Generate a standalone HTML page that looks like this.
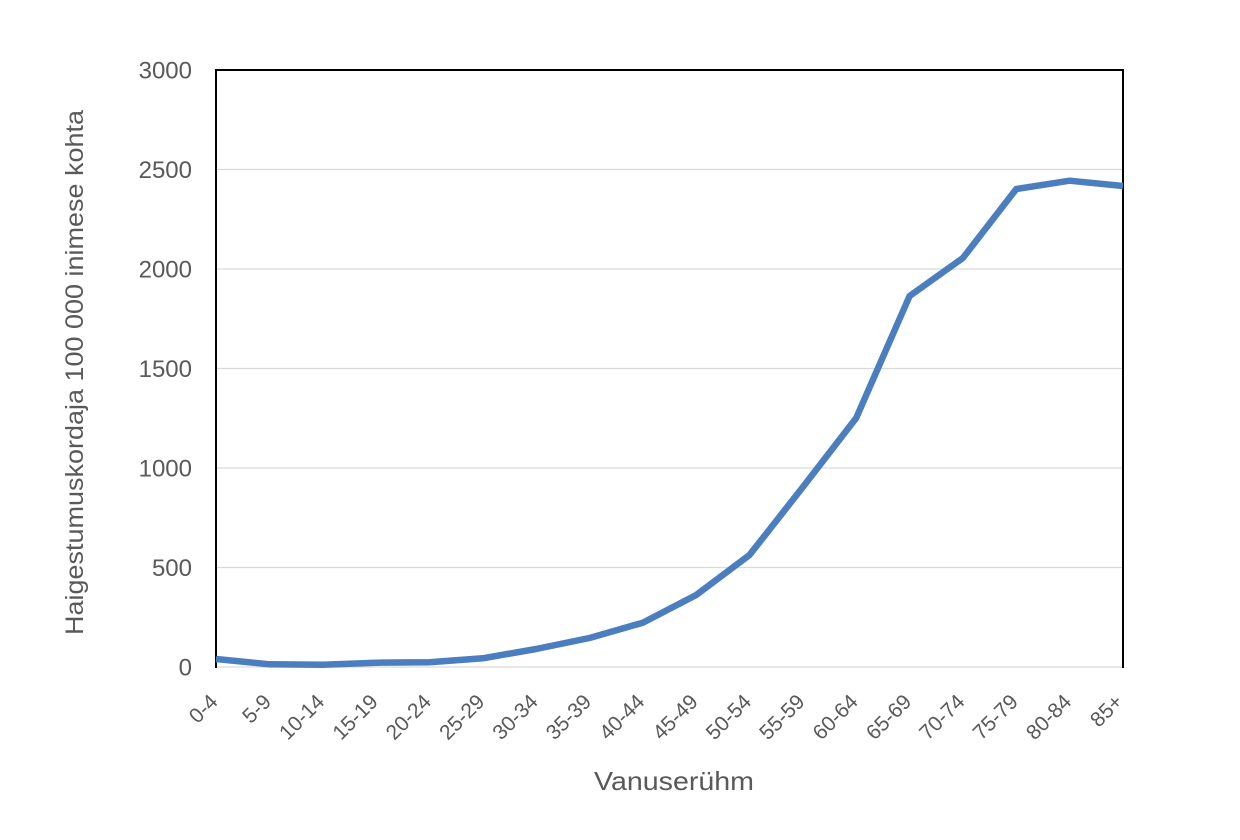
<!DOCTYPE html>
<html>
<head>
<meta charset="utf-8">
<style>
  html, body { margin: 0; padding: 0; background: #ffffff; }
  svg { display: block; }
  text { font-family: "Liberation Sans", "DejaVu Sans", sans-serif; fill: #595959; }
</style>
</head>
<body>
<svg width="1240" height="840" viewBox="0 0 1240 840" xmlns="http://www.w3.org/2000/svg">
  <rect x="0" y="0" width="1240" height="840" fill="#ffffff"/>

  <!-- gridlines -->
  <g stroke="#d9d9d9" stroke-width="1.3">
    <line x1="216" y1="169.5" x2="1123" y2="169.5"/>
    <line x1="216" y1="269" x2="1123" y2="269"/>
    <line x1="216" y1="368.5" x2="1123" y2="368.5"/>
    <line x1="216" y1="468" x2="1123" y2="468"/>
    <line x1="216" y1="567.5" x2="1123" y2="567.5"/>
    <line x1="216" y1="667" x2="1123" y2="667"/>
  </g>

  <!-- frame -->
  <g stroke="#000000" stroke-width="2" fill="none">
    <line x1="216" y1="70" x2="1123" y2="70"/>
    <line x1="216" y1="69" x2="216" y2="668"/>
    <line x1="1123" y1="69" x2="1123" y2="668"/>
  </g>

  <!-- data line -->
  <polyline fill="none" stroke="#4a7ebf" stroke-width="6.5" stroke-linejoin="round" stroke-linecap="butt"
    points="216,659 269.4,664.3 322.7,664.7 376.1,662.7 429.4,662.3 482.8,658.3 536.1,649 589.5,638 642.8,622.7 696.2,595 749.5,555 802.9,487 856.2,418 909.6,296 962.9,258 1016.3,189 1069.6,180.7 1123,186"/>

  <!-- y tick labels -->
  <g font-size="24" text-anchor="end">
    <text x="192" y="78.5">3000</text>
    <text x="192" y="178">2500</text>
    <text x="192" y="277.5">2000</text>
    <text x="192" y="377">1500</text>
    <text x="192" y="476.5">1000</text>
    <text x="192" y="576">500</text>
    <text x="192" y="675.5">0</text>
  </g>

  <!-- x tick labels -->
  <g font-size="21" text-anchor="end">
    <text transform="translate(219,703) rotate(-45)">0-4</text>
    <text transform="translate(272.4,703) rotate(-45)">5-9</text>
    <text transform="translate(325.7,703) rotate(-45)">10-14</text>
    <text transform="translate(379.1,703) rotate(-45)">15-19</text>
    <text transform="translate(432.4,703) rotate(-45)">20-24</text>
    <text transform="translate(485.8,703) rotate(-45)">25-29</text>
    <text transform="translate(539.1,703) rotate(-45)">30-34</text>
    <text transform="translate(592.5,703) rotate(-45)">35-39</text>
    <text transform="translate(645.8,703) rotate(-45)">40-44</text>
    <text transform="translate(699.2,703) rotate(-45)">45-49</text>
    <text transform="translate(752.5,703) rotate(-45)">50-54</text>
    <text transform="translate(805.9,703) rotate(-45)">55-59</text>
    <text transform="translate(859.2,703) rotate(-45)">60-64</text>
    <text transform="translate(912.6,703) rotate(-45)">65-69</text>
    <text transform="translate(965.9,703) rotate(-45)">70-74</text>
    <text transform="translate(1019.3,703) rotate(-45)">75-79</text>
    <text transform="translate(1072.6,703) rotate(-45)">80-84</text>
    <text transform="translate(1124,703) rotate(-45)">85+</text>
  </g>

  <!-- axis titles -->
  <text x="674" y="790" font-size="26" text-anchor="middle" textLength="160" lengthAdjust="spacingAndGlyphs">Vanuserühm</text>
  <text transform="translate(83,372.5) rotate(-90)" font-size="25" text-anchor="middle" textLength="525" lengthAdjust="spacingAndGlyphs">Haigestumuskordaja 100 000 inimese kohta</text>
</svg>
</body>
</html>
